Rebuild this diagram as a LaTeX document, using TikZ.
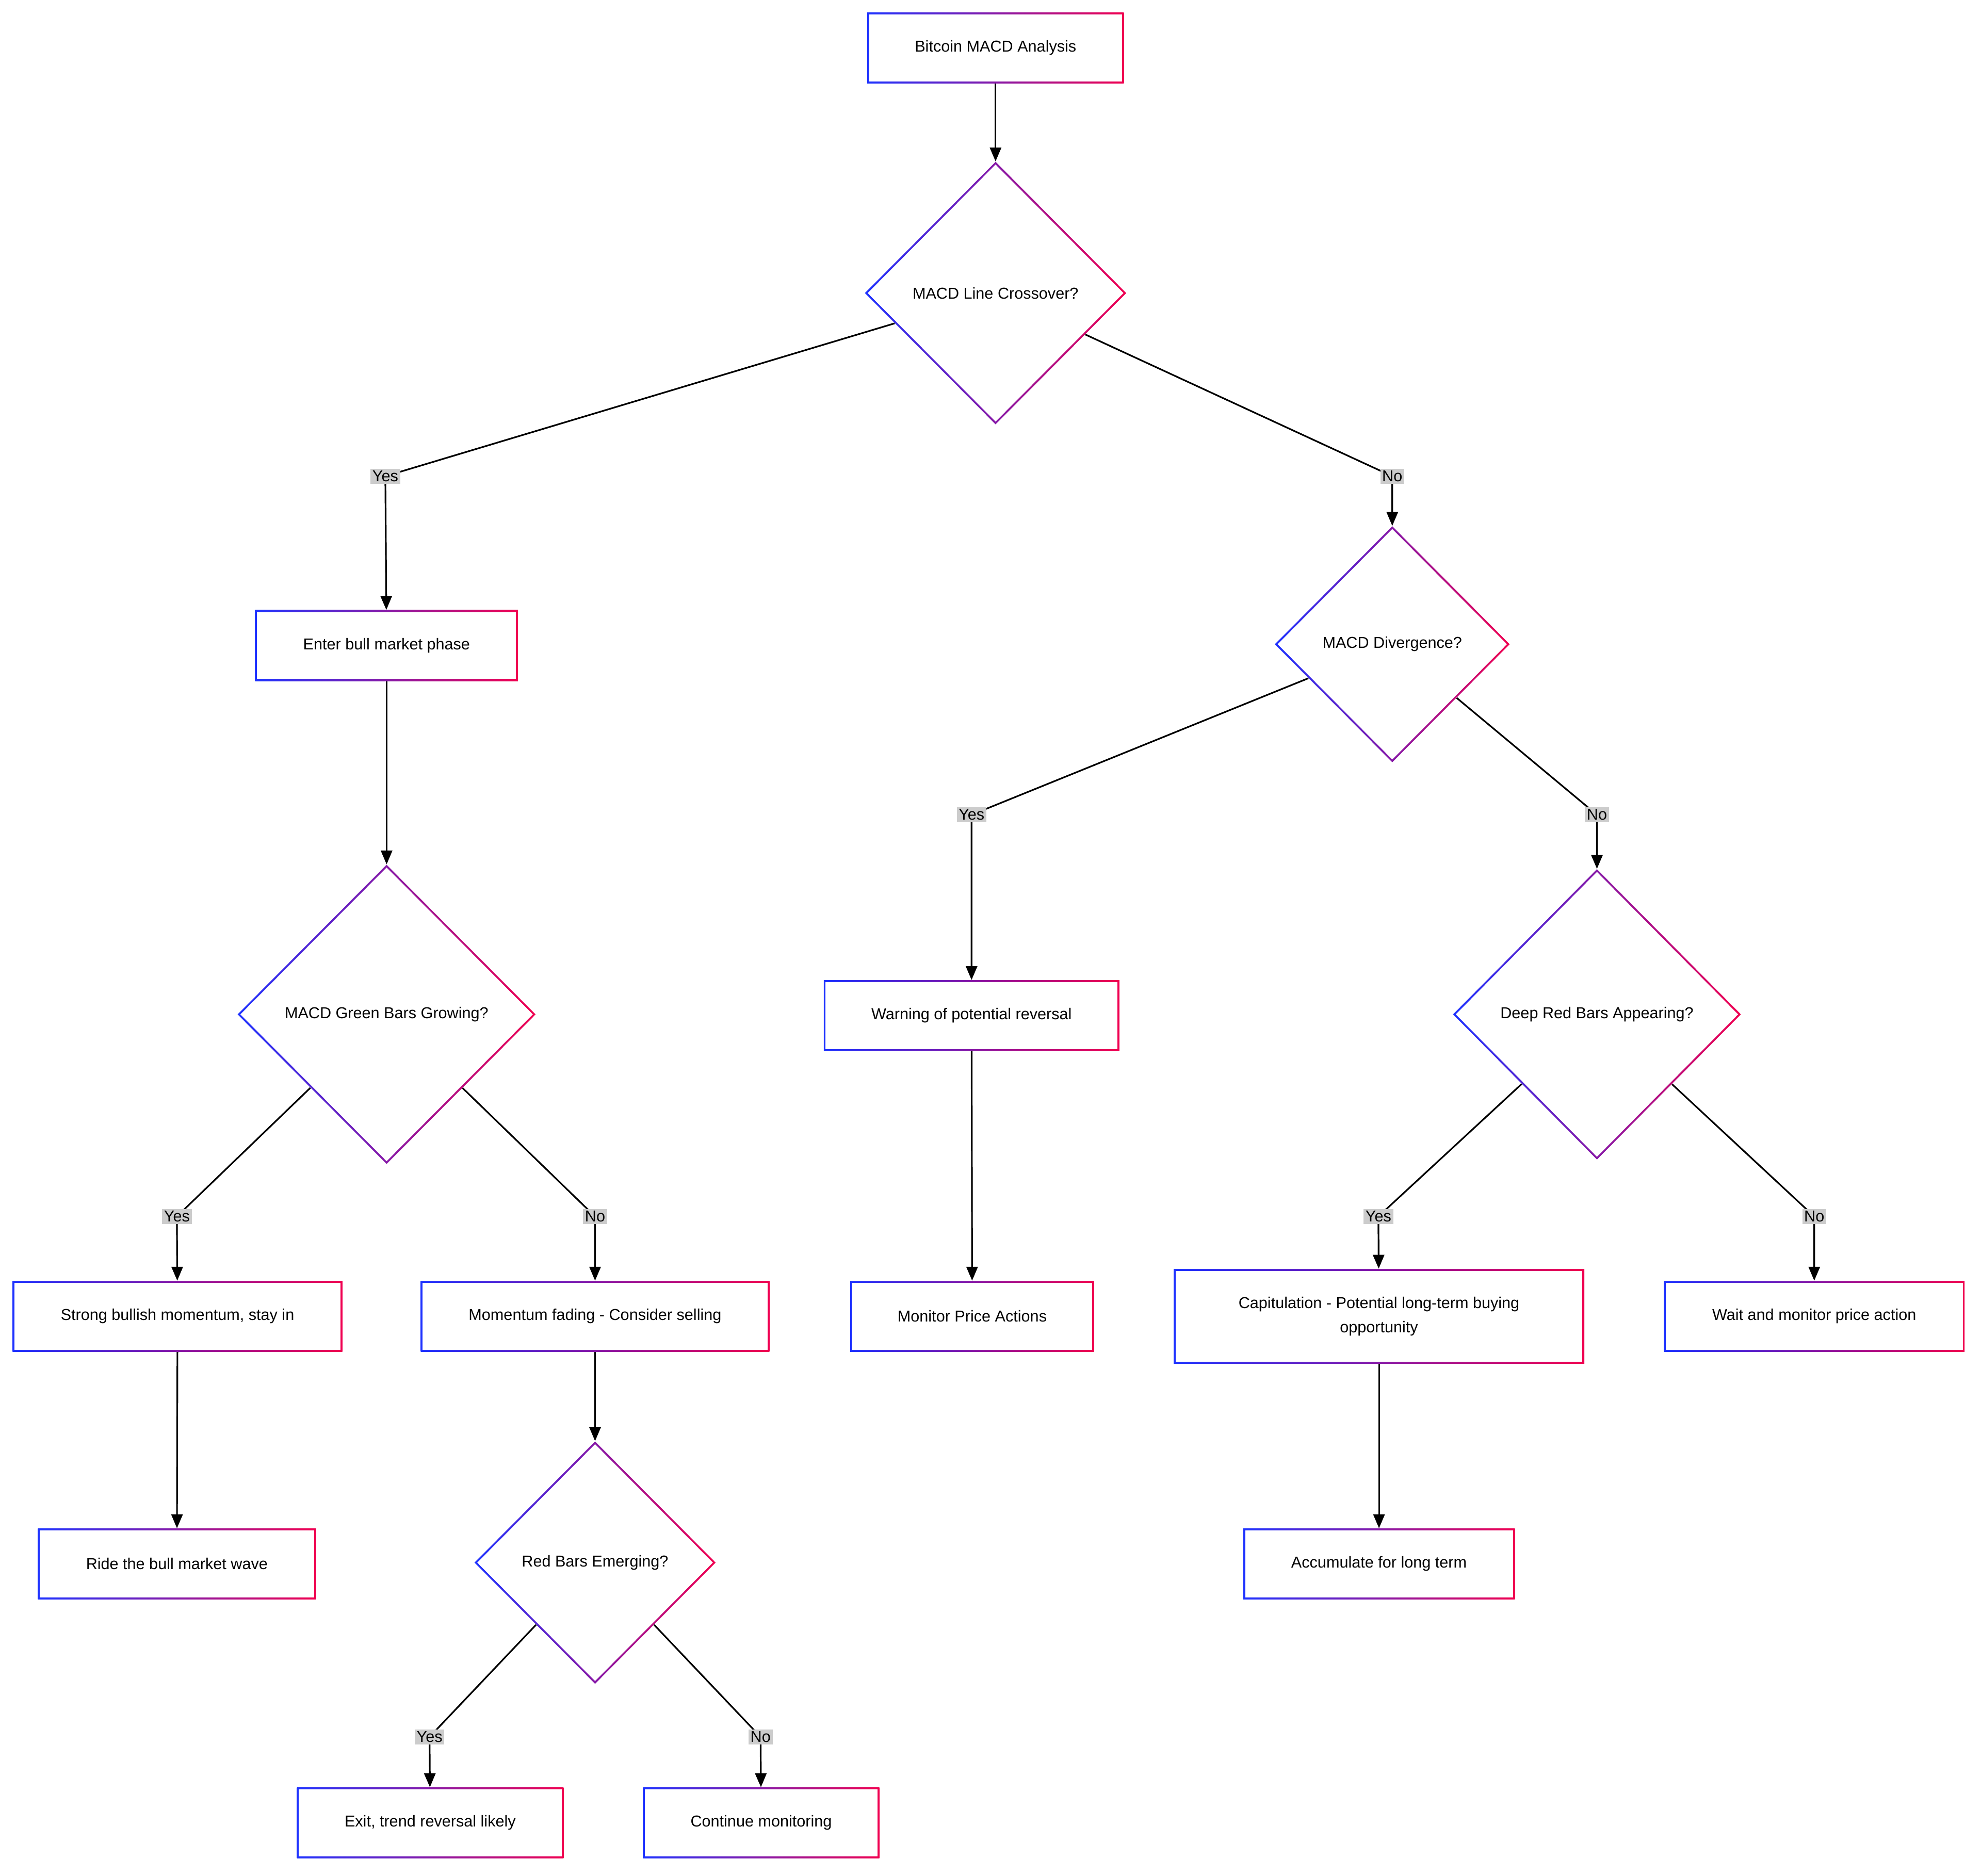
\documentclass[tikz,border=0pt]{standalone}
\usepackage{fontspec}
\setmainfont{Liberation Sans}
\usetikzlibrary{shapes.geometric,arrows.meta,backgrounds}
\definecolor{cb}{RGB}{30,50,255}
\definecolor{cr}{RGB}{240,0,80}
\definecolor{lg}{RGB}{204,204,204}
\tikzset{
 box/.style n args={2}{rectangle, minimum width=#1pt, minimum height=#2pt, inner sep=0pt, align=center,
   left color=cb, right color=cr,
   path picture={\fill[white] ([shift={(1.5pt,-1.5pt)}]path picture bounding box.north west) rectangle ([shift={(-1.5pt,1.5pt)}]path picture bounding box.south east);},
   font=\fontsize{12.5}{19}\selectfont},
 dia/.style n args={2}{diamond, minimum width=#1pt, minimum height=#2pt, inner sep=0pt,
   left color=cb, right color=cr,
   path picture={\fill[white] ([xshift=2.2pt]path picture bounding box.west) -- ([yshift=-2.2pt]path picture bounding box.north) -- ([xshift=-2.2pt]path picture bounding box.east) -- ([yshift=2.2pt]path picture bounding box.south) -- cycle;},
   font=\fontsize{12.5}{15}\selectfont},
 lbl/.style={fill=lg, inner sep=1.5pt, font=\fontsize{12.5}{14}\selectfont},
 arr/.style={line width=1.3pt, -{Triangle[length=11pt,width=9pt]}},
}
\begin{document}
\begin{tikzpicture}[x=1pt,y=-1pt]
\useasboundingbox (0,0) rectangle (1568,1485);
\node[box={203}{56}] (start) at (788,38) {Bitcoin MACD Analysis};
\node[dia={207}{208}] (d1) at (788,232) {MACD Line Crossover?};
\node[box={208}{56}] (enter) at (306,511) {Enter bull market phase};
\node[dia={186}{187}] (d2) at (1102,510) {MACD Divergence?};
\node[dia={236}{237}] (d3) at (306,803) {MACD Green Bars Growing?};
\node[box={234}{56}] (warn) at (769,804) {Warning of potential reversal};
\node[dia={228}{230}] (d4) at (1264,803) {Deep Red Bars Appearing?};
\node[box={261}{56}] (strong) at (140.5,1042) {Strong bullish momentum, stay in};
\node[box={276}{56}] (fade) at (471,1042) {Momentum fading - Consider selling};
\node[box={193}{56}] (mon) at (769.5,1042) {Monitor Price Actions};
\node[box={325}{75}] (cap) at (1091.5,1042) {Capitulation - Potential long-term buying\\opportunity};
\node[box={238}{56}] (wait) at (1436,1042) {Wait and monitor price action};
\node[box={220}{56}] (ride) at (140,1238) {Ride the bull market wave};
\node[dia={191}{192}] (d5) at (471,1237) {Red Bars Emerging?};
\node[box={215}{56}] (acc) at (1091.5,1238) {Accumulate for long term};
\node[box={211}{56}] (exit) at (340.5,1443) {Exit, trend reversal likely};
\node[box={187}{56}] (cont) at (602.5,1443) {Continue monitoring};

\node[lbl] (l1) at (305,377) {Yes};
\node[lbl] (l2) at (1102,377) {No};
\node[lbl] (l3) at (140,963) {Yes};
\node[lbl] (l4) at (471,963) {No};
\node[lbl] (l5) at (769,645) {Yes};
\node[lbl] (l6) at (1264,645) {No};
\node[lbl] (l7) at (1091,963) {Yes};
\node[lbl] (l8) at (1436,963) {No};
\node[lbl] (l9) at (340,1375) {Yes};
\node[lbl] (l10) at (602,1375) {No};

\begin{pgfonlayer}{background}
\draw[arr] (start) -- (d1);
\draw[arr] (d1) -- (l1.center) -- (enter);
\draw[arr] (d1) -- (l2.center) -- (d2);
\draw[arr] (enter) -- (d3);
\draw[arr] (d3) -- (l3.center) -- (strong);
\draw[arr] (d3) -- (l4.center) -- (fade);
\draw[arr] (d2) -- (l5.center) -- (warn);
\draw[arr] (d2) -- (l6.center) -- (d4);
\draw[arr] (d4) -- (l7.center) -- (cap);
\draw[arr] (d4) -- (l8.center) -- (wait);
\draw[arr] (strong) -- (ride);
\draw[arr] (fade) -- (d5);
\draw[arr] (warn) -- (mon);
\draw[arr] (cap) -- (acc);
\draw[arr] (d5) -- (l9.center) -- (exit);
\draw[arr] (d5) -- (l10.center) -- (cont);
\end{pgfonlayer}
\end{tikzpicture}
\end{document}
